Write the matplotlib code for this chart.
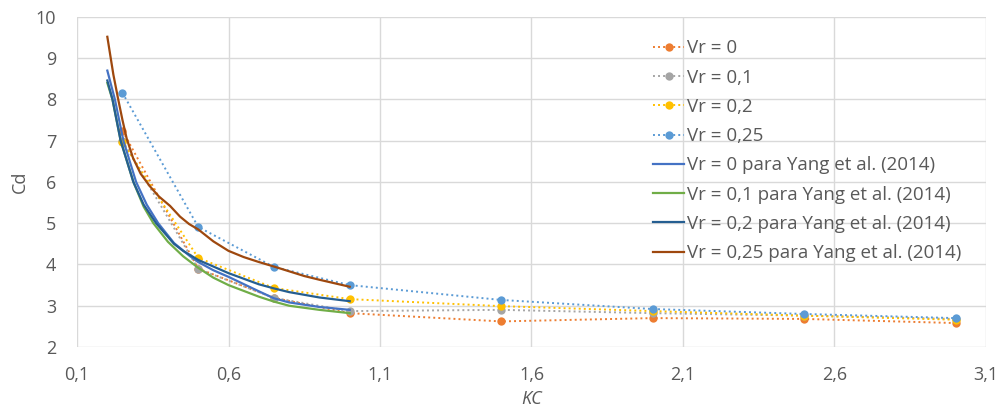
import numpy as np
import matplotlib.pyplot as plt

# ensaios (pontos medidos)
kc = [0.25, 0.5, 0.75, 1.0, 1.5, 2.0, 2.5, 3.0]
cd_vr0 = [7.24, 3.90, 3.19, 2.82, 2.62, 2.70, 2.68, 2.58]
cd_vr01 = [7.00, 3.89, 3.19, 2.87, 2.90, 2.82, 2.76, 2.68]
cd_vr02 = [6.97, 4.16, 3.43, 3.16, 2.99, 2.87, 2.76, 2.66]
cd_vr025 = [8.16, 4.91, 3.94, 3.50, 3.14, 2.92, 2.80, 2.70]

# curvas de Yang et al. (2014)
kc_y0 = [0.2, 0.225, 0.253, 0.295, 0.33, 0.368, 0.42, 0.473, 0.5, 0.55, 0.6, 0.7, 0.75, 0.8, 0.9, 1.0]
cd_y0 = [8.70, 8.0, 7.0, 6.0, 5.45, 5.0, 4.52, 4.2, 4.06, 3.86, 3.70, 3.35, 3.18, 3.08, 2.97, 2.90]
kc_y01 = [0.2, 0.217, 0.244, 0.286, 0.32, 0.352, 0.40, 0.45, 0.5, 0.55, 0.6, 0.7, 0.75, 0.8, 0.9, 1.0]
cd_y01 = [8.40, 8.0, 7.0, 6.0, 5.4, 5.0, 4.55, 4.2, 3.92, 3.68, 3.50, 3.22, 3.10, 3.0, 2.9, 2.82]
kc_y02 = [0.2, 0.217, 0.244, 0.286, 0.32, 0.361, 0.42, 0.45, 0.5, 0.6, 0.7, 0.75, 0.8, 0.9, 1.0]
cd_y02 = [8.46, 8.0, 7.0, 6.0, 5.45, 5.0, 4.5, 4.33, 4.11, 3.79, 3.52, 3.42, 3.33, 3.20, 3.11]
kc_y025 = [0.2, 0.22, 0.236, 0.25, 0.264, 0.285, 0.31, 0.34, 0.37, 0.407, 0.44, 0.47, 0.5,
           0.55, 0.6, 0.65, 0.7, 0.75, 0.85, 0.9, 1.0]
cd_y025 = [9.52, 8.6, 8.0, 7.5, 7.05, 6.58, 6.2, 5.9, 5.65, 5.42, 5.16, 4.98, 4.85,
           4.56, 4.33, 4.18, 4.06, 3.95, 3.72, 3.63, 3.46]

xticks = [0.1, 0.6, 1.1, 1.6, 2.1, 2.6, 3.1]
yticks = [2, 3, 4, 5, 6, 7, 8, 9, 10]

plt.rcParams['font.family'] = ['Open Sans', 'DejaVu Sans']
txt = '#595959'
fs = 13

fig = plt.figure(figsize=(10.03, 4.15), dpi=100)
ax = fig.add_axes([0.0768, 0.1639, 0.9062, 0.7952])

dot = (0, (1, 1.6))
ens = [(cd_vr0, '#ED7D31', 'Vr = 0'),
       (cd_vr01, '#A5A5A5', 'Vr = 0,1'),
       (cd_vr02, '#FFC000', 'Vr = 0,2'),
       (cd_vr025, '#5B9BD5', 'Vr = 0,25')]
for cd, c, lab in ens:
    ax.plot(kc, cd, linestyle=dot, lw=1.4, color=c, marker='o', ms=6,
            markeredgewidth=0, label=lab)

yang = [(kc_y0, cd_y0, '#4472C4', 'Vr = 0 para Yang et al. (2014)'),
        (kc_y01, cd_y01, '#70AD47', 'Vr = 0,1 para Yang et al. (2014)'),
        (kc_y02, cd_y02, '#255E91', 'Vr = 0,2 para Yang et al. (2014)'),
        (kc_y025, cd_y025, '#9E480E', 'Vr = 0,25 para Yang et al. (2014)')]
for x, y, c, lab in yang:
    ax.plot(x, y, lw=1.6, color=c, label=lab)

ax.set_xlim(0.1, 3.1)
ax.set_ylim(2, 10)
ax.set_xticks(xticks)
ax.set_xticklabels([('%.1f' % v).replace('.', ',') for v in xticks])
ax.set_yticks(yticks)
ax.grid(True, color='#D9D9D9', lw=1)
ax.set_axisbelow(True)
for s in ax.spines.values():
    s.set_visible(False)
ax.tick_params(length=0, labelsize=fs, colors=txt)
ax.tick_params(axis='x', pad=14)
ax.tick_params(axis='y', pad=15)

ax.set_xlabel('KC', fontsize=fs, color=txt, style='italic', labelpad=4)
ax.set_ylabel('Cd', fontsize=fs, color=txt, labelpad=5)

leg = ax.legend(loc='upper left', bbox_to_anchor=(0.625, 0.955), frameon=False,
                fontsize=13.5, labelcolor=txt, handlelength=1.7,
                handletextpad=0.15, labelspacing=0.6, borderaxespad=0)

fig.savefig('out.png', dpi=100)
